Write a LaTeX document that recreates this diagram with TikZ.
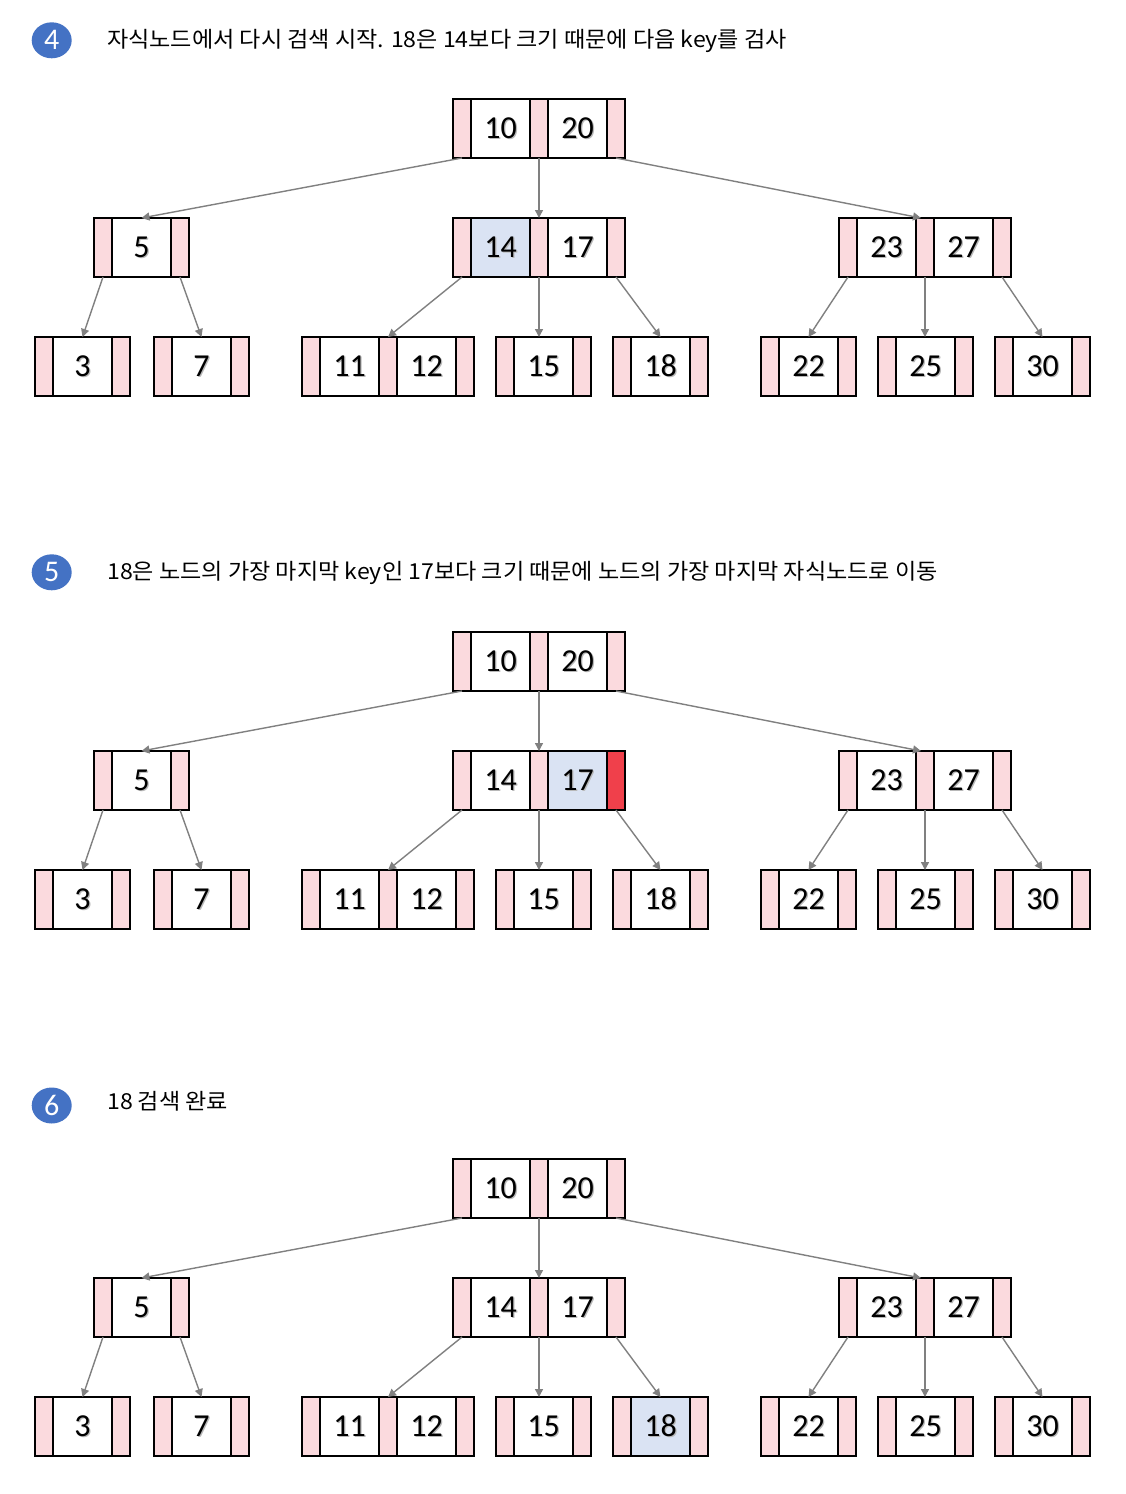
\documentclass[tikz,border=0pt]{standalone}
\usepackage{fontspec}
\usetikzlibrary{shapes.geometric,arrows.meta,calc}
\newfontfamily\krfont{Noto Sans CJK KR}[FakeStretch=1.05]
\newfontfamily\numfam{Carlito}
\definecolor{pinkc}{RGB}{251,218,222}
\definecolor{hlblue}{RGB}{218,227,243}
\definecolor{redc}{RGB}{240,64,75}
\definecolor{circblue}{RGB}{68,114,196}
\definecolor{arrgray}{RGB}{128,128,128}
\newcommand\shtxt[1]{\makebox[0pt][l]{\kern1.3pt\raisebox{-1.3pt}{\textcolor{black!28}{#1}}}#1}
\tikzset{
  ptrcell/.style={draw=black, line width=1.6pt, fill=pinkc, minimum width=18pt, minimum height=59pt, inner sep=0pt, outer sep=0pt, anchor=west},
  keycell/.style={draw=black, line width=1.6pt, fill=white, minimum width=59pt, minimum height=59pt, inner sep=0pt, outer sep=0pt, anchor=west, font=\numfam\fontsize{32}{36}\selectfont},
  cpa/.style={ptrcell}, cpb/.style={ptrcell}, cpc/.style={ptrcell},
  cka/.style={keycell}, ckb/.style={keycell},
  arr/.style={draw=arrgray, line width=1.4pt, -{Triangle[length=8pt,width=8pt]}},
  badge/.style={ellipse, fill=circblue, minimum width=40pt, minimum height=36pt, inner sep=0pt, text=white, font=\numfam\fontsize{30}{32}\selectfont},
  headtxt/.style={anchor=base west, inner sep=0pt, font=\krfont\fontsize{22}{24}\selectfont}
}
\newcommand\bnodeA[5][]{%
\begin{scope}[#1]
\node[cpa] (#2p0) at (#3,{#4+29.5}) {};
\node[cka] (#2k1) at (#2p0.east) {\shtxt{#5}};
\node[cpb] (#2p1) at (#2k1.east) {};
\end{scope}}
\newcommand\bnodeB[6][]{%
\begin{scope}[#1]
\node[cpa] (#2p0) at (#3,{#4+29.5}) {};
\node[cka] (#2k1) at (#2p0.east) {\shtxt{#5}};
\node[cpb] (#2p1) at (#2k1.east) {};
\node[ckb] (#2k2) at (#2p1.east) {\shtxt{#6}};
\node[cpc] (#2p2) at (#2k2.east) {};
\end{scope}}
\newcommand\drawtree[4]{%
\bnodeB{#1r}{453}{99+#2}{10}{20}
\bnodeA{#1a}{94}{218+#2}{5}
\bnodeB[#3]{#1m}{453}{218+#2}{14}{17}
\bnodeB{#1z}{839}{218+#2}{23}{27}
\bnodeA{#1la}{35}{337+#2}{3}
\bnodeA{#1lb}{154}{337+#2}{7}
\bnodeB{#1lc}{302}{337+#2}{11}{12}
\bnodeA{#1ld}{496}{337+#2}{15}
\bnodeA[#4]{#1le}{613}{337+#2}{18}
\bnodeA{#1lf}{761}{337+#2}{22}
\bnodeA{#1lg}{878}{337+#2}{25}
\bnodeA{#1lh}{995}{337+#2}{30}
\draw[arr] (#1rp0.south) -- (#1ak1.north);
\draw[arr] (#1rp1.south) -- (#1mp1.north);
\draw[arr] (#1rp2.south) -- ($(#1zp1.north)+(-4,0)$);
\draw[arr] (#1ap0.south) -- (#1lak1.north);
\draw[arr] (#1ap1.south) -- (#1lbk1.north);
\draw[arr] (#1mp0.south) -- (#1lcp1.north);
\draw[arr] (#1mp1.south) -- (#1mp1.south |- #1ldk1.north);
\draw[arr] (#1mp2.south) -- (#1lek1.north);
\draw[arr] (#1zp0.south) -- (#1lfk1.north);
\draw[arr] (#1zp1.south) -- (#1zp1.south |- #1lgk1.north);
\draw[arr] (#1zp2.south) -- (#1lhk1.north);
}
\begin{document}
\begin{tikzpicture}[x=1pt,y=-1pt]
\useasboundingbox[fill=white] (0,0) rectangle (1125,1494);
% section 4
\node[badge] (b4) at (51.7,40.3) {4};
\node[headtxt] (t4) at (107,47.5) {자식노드에서 다시 검색 시작. 18은 14보다 크기 때문에 다음 key를 검사};
\drawtree{d}{0}{cka/.style={keycell,fill=hlblue}}{}
% section 5
\node[badge] (b5) at (51.7,572.3) {5};
\node[headtxt] (t5) at (107,579.5) {18은 노드의 가장 마지막 key인 17보다 크기 때문에 노드의 가장 마지막 자식노드로 이동};
\drawtree{e}{533}{ckb/.style={keycell,fill=hlblue},cpc/.style={ptrcell,fill=redc}}{}
% section 6
\node[badge] (b6) at (51.7,1105.5) {6};
\node[headtxt] (t6) at (107,1109.5) {18 검색 완료};
\drawtree{f}{1060}{}{cka/.style={keycell,fill=hlblue}}
\end{tikzpicture}
\end{document}
